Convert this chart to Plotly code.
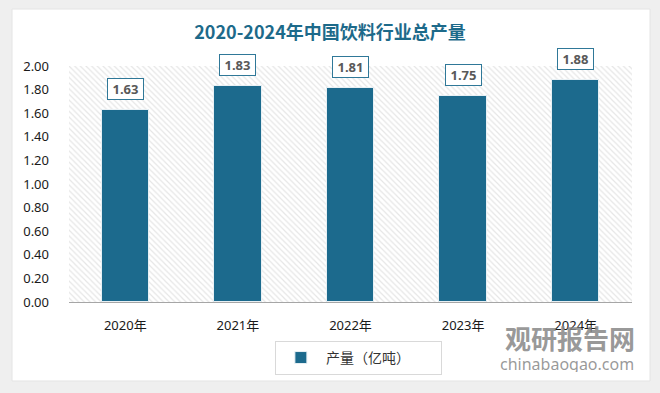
import plotly.graph_objects as go

categories = ["2020年", "2021年", "2022年", "2023年", "2024年"]
values = [1.63, 1.83, 1.81, 1.75, 1.88]
y_ticks = [0, 0.2, 0.4, 0.6, 0.8, 1.0, 1.2, 1.4, 1.6, 1.8, 2.0]
series_name = "产量（亿吨）"
title_text = "2020-2024年中国饮料行业总产量"
y_max = 2.0

BAR = "#1c6a8d"
FONT = "Noto Sans, Noto Sans CJK SC, sans-serif"
CJK = "Noto Sans CJK SC, sans-serif"

fig = go.Figure()

# hatched plot background
fig.add_trace(go.Bar(
    x=categories, y=[y_max] * len(categories), width=1.0,
    marker=dict(color="white", line=dict(width=0),
                pattern=dict(shape="\\", fgcolor="#cdcdcd", bgcolor="white", size=4, solidity=0.3)),
    hoverinfo="skip", showlegend=False,
))

fig.add_trace(go.Bar(
    x=categories, y=values, width=0.42,
    name=series_name + "\u00a0" * 8,
    marker=dict(color=BAR, line=dict(color="#e8f0f4", width=1)),
))

for c, v in zip(categories, values):
    fig.add_annotation(
        x=c, y=v, text=f"<b>{v:.2f}</b>", showarrow=False,
        yanchor="bottom", yshift=10, width=33, height=18,
        font=dict(family=FONT, size=13, color="#595959"),
        bgcolor="white", bordercolor="#2f7898", borderwidth=1, borderpad=1,
    )

# white card
fig.add_shape(type="rect", xref="paper", yref="paper",
              x0=-0.1012, x1=1.032, y0=-0.3347, y1=1.2415,
              fillcolor="white", line=dict(color="#e4e4e4", width=1), layer="below")

# watermark
fig.add_annotation(xref="paper", yref="paper", x=0.890, y=-0.148, xanchor="center", yanchor="middle",
                   text="<b>观研报告网</b>", showarrow=False, height=30,
                   font=dict(family=CJK, size=26, color="rgba(135,135,135,0.85)"))
fig.add_annotation(xref="paper", yref="paper", x=0.885, y=-0.262, xanchor="center", yanchor="middle",
                   text="chinabaogao.com", showarrow=False, height=16,
                   font=dict(family=FONT, size=16, color="rgba(135,135,135,0.85)"))

fig.update_layout(
    width=660, height=393,
    margin=dict(l=69, r=28, t=66, b=91),
    paper_bgcolor="#efefef", plot_bgcolor="rgba(0,0,0,0)",
    barmode="overlay", bargap=0,
    title=dict(text=f"<b>{title_text}</b>", x=0.5, xanchor="center", y=1 - 33 / 393, yanchor="middle",
               font=dict(family=CJK, size=18, color="#1d6a8a")),
    font=dict(family=FONT, size=13, color="#333333"),
    showlegend=True,
    legend=dict(orientation="h", x=0.514, xanchor="center", y=-0.165, yanchor="top",
                bordercolor="#d9d9d9", borderwidth=1, bgcolor="white",
                font=dict(family=CJK, size=14, color="#333333"),
                itemwidth=40),
    xaxis=dict(showgrid=False, showline=True, linecolor="#a6a6a6", linewidth=1,
               ticks="", ticklabelstandoff=11, tickfont=dict(family=FONT, size=13, color="#1a1a1a")),
    yaxis=dict(range=[0, y_max], tickvals=y_ticks, tickformat=".2f", showgrid=False,
               zeroline=False, ticks="", ticklabelstandoff=19,
               tickfont=dict(family=FONT, size=13, color="#1a1a1a")),
)

fig.write_html("out.html", config={"displayModeBar": False},
               post_script="document.body.style.margin='0';document.body.style.background='#efefef';")
